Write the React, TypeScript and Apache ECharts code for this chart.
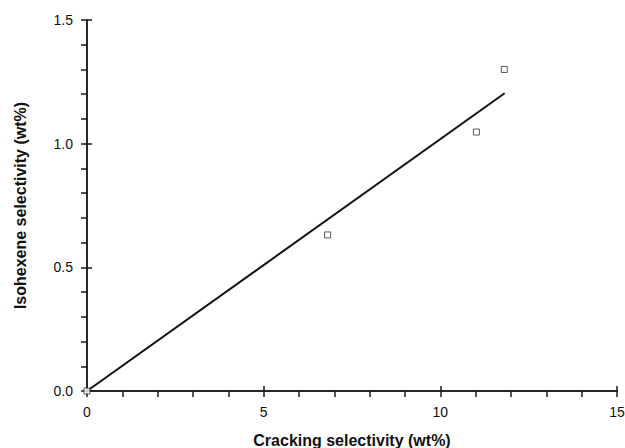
import React, { useEffect, useRef } from "react";
import * as echarts from "echarts";

const xData = [0, 6.81, 11.02, 11.81];
const yData = [0, 0.631, 1.047, 1.3];
const fitLine = [
  [0, 0],
  [11.82, 1.204],
];
const xTitle = "Cracking selectivity (wt%)";
const yTitle = "Isohexene selectivity (wt%)";

export default function App() {
  const ref = useRef<HTMLDivElement>(null);
  useEffect(() => {
    if (!ref.current) return;
    const chart = echarts.init(ref.current, null, { renderer: "svg" });
    const axisColor = "#1a1a1a";
    const tickStyle = { color: axisColor, width: 1.5 };
    const baseX = {
      type: "value",
      min: 0,
      max: 15,
      position: "bottom",
      axisLine: { show: true, onZero: false, lineStyle: { color: axisColor, width: 1.5 } },
      splitLine: { show: false },
    };
    const baseY = {
      type: "value",
      min: 0,
      max: 1.5,
      position: "left",
      axisLine: { show: true, onZero: false, lineStyle: { color: axisColor, width: 1.5 } },
      splitLine: { show: false },
    };
    const labelStyle = { fontFamily: "Liberation Sans", fontSize: 14, color: "#111" };
    const nameStyle = { fontFamily: "Liberation Sans", fontWeight: "bold", fontSize: 16, color: "#111" };
    chart.setOption({
      animation: false,
      backgroundColor: "#fff",
      grid: { left: 87, right: 8, top: 20, bottom: 57, containLabel: false, outerBoundsMode: "none" },
      xAxis: [
        {
          ...baseX,
          interval: 5,
          name: xTitle,
          nameLocation: "middle",
          nameGap: 41,
          nameTextStyle: nameStyle,
          axisTick: { show: true, inside: true, length: 5, lineStyle: tickStyle },
          axisLabel: { margin: 14, ...labelStyle },
        },
        {
          ...baseX,
          interval: 1,
          axisTick: { show: true, inside: false, length: 6, lineStyle: tickStyle },
          axisLabel: { show: false },
        },
      ],
      yAxis: [
        {
          ...baseY,
          interval: 0.5,
          name: yTitle,
          nameLocation: "middle",
          nameGap: 59,
          nameTextStyle: nameStyle,
          axisTick: { show: true, inside: true, length: 5, lineStyle: tickStyle },
          axisLabel: {
            margin: 14,
            ...labelStyle,
            formatter: (v: number) => v.toFixed(1),
          },
        },
        {
          ...baseY,
          interval: 0.1,
          axisTick: { show: true, inside: false, length: 6, lineStyle: tickStyle },
          axisLabel: { show: false },
        },
      ],
      series: [
        {
          type: "line",
          data: fitLine,
          showSymbol: false,
          symbol: "none",
          lineStyle: { color: "#111", width: 2 },
          z: 3,
        },
        {
          type: "scatter",
          data: xData.map((x, i) => [x, yData[i]]),
          symbol: "rect",
          symbolSize: 6,
          itemStyle: { color: "#fff", borderColor: "#333", borderWidth: 1 },
          z: 4,
        },
      ],
    });
    return () => chart.dispose();
  }, []);
  return <div ref={ref} style={{ width: 625, height: 448, position: "absolute", left: 0, top: 0 }} />;
}
